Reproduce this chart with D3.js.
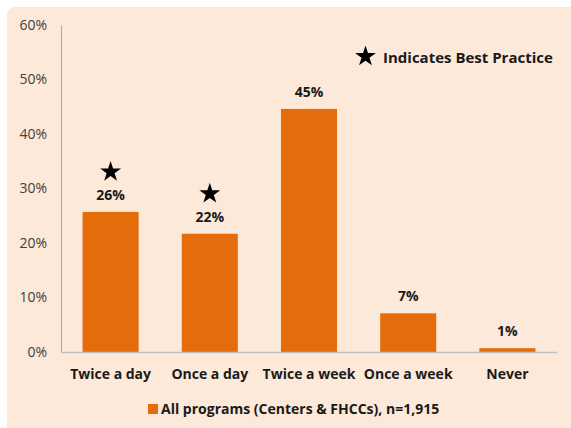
<!DOCTYPE html>
<html>
<head>
<meta charset="utf-8">
<script src="https://cdn.jsdelivr.net/npm/d3@7"></script>
<style>
  body { margin: 0; background: #fff; }
  text { font-family: "Open Sans", "Liberation Sans", sans-serif; }
</style>
</head>
<body>
<div id="chart"></div>
<script>
// Data
var categories = ["Twice a day", "Once a day", "Twice a week", "Once a week", "Never"];
var values = [25.7, 21.7, 44.6, 7.1, 0.7];
var valueLabels = ["26%", "22%", "45%", "7%", "1%"];
var bestPractice = [true, true, false, false, false];
var yTicks = [0, 10, 20, 30, 40, 50, 60];
var seriesName = "All programs (Centers & FHCCs), n=1,915";

var svgWidth = 571;
var svgHeight = 428;

var margin = { top: 25, right: 14, bottom: 76, left: 61 };
var width = svgWidth - margin.left - margin.right;
var height = svgHeight - margin.top - margin.bottom;

var svg = d3.select("#chart")
  .append("svg")
  .attr("width", svgWidth)
  .attr("height", svgHeight);

// peach chart background with rounded corner
svg.append("rect")
  .attr("x", 7)
  .attr("y", 7)
  .attr("width", svgWidth)
  .attr("height", svgHeight)
  .attr("rx", 8)
  .attr("fill", "#fde9d9");

var chartGroup = svg.append("g")
  .attr("transform", `translate(${margin.left}, ${margin.top})`);

var xScale = d3.scaleBand()
  .domain(categories)
  .range([0, width])
  .paddingInner(0.435)
  .paddingOuter(0.2175);

var yScale = d3.scaleLinear()
  .domain([0, 60])
  .range([height, 0]);

var star = d3.symbol().type(d3.symbolStar).size(135);

// y axis
var leftAxis = d3.axisLeft(yScale)
  .tickValues(yTicks)
  .tickSize(0)
  .tickPadding(14)
  .tickFormat(d => d + "%");

var yAxisG = chartGroup.append("g").call(leftAxis);
yAxisG.select(".domain").attr("stroke", "#a6a6a6");
yAxisG.selectAll("text")
  .attr("font-size", "14px")
  .attr("fill", "#404040");

// bars
chartGroup.selectAll("rect.bar")
  .data(values)
  .enter()
  .append("rect")
  .attr("class", "bar")
  .attr("x", (d, i) => xScale(categories[i]))
  .attr("y", d => yScale(d))
  .attr("width", xScale.bandwidth())
  .attr("height", d => height - yScale(d))
  .attr("fill", "#e46c0a");

// x axis
var bottomAxis = d3.axisBottom(xScale)
  .tickSize(0)
  .tickPadding(17);

var xAxisG = chartGroup.append("g")
  .attr("transform", `translate(0, ${height})`)
  .call(bottomAxis);
xAxisG.select(".domain").attr("stroke", "#bfbfbf").attr("stroke-width", 1.5);
xAxisG.selectAll("text")
  .attr("font-size", "14px")
  .attr("font-weight", "bold")
  .attr("fill", "#1a1a1a");

// value labels
chartGroup.selectAll("text.val")
  .data(values)
  .enter()
  .append("text")
  .attr("class", "val")
  .attr("x", (d, i) => xScale(categories[i]) + xScale.bandwidth() / 2)
  .attr("y", d => yScale(d) - 12)
  .attr("text-anchor", "middle")
  .attr("font-size", "14px")
  .attr("font-weight", "bold")
  .attr("fill", "#1a1a1a")
  .text((d, i) => valueLabels[i]);

// best practice stars
chartGroup.selectAll("path.star")
  .data(values.filter((d, i) => bestPractice[i]))
  .enter()
  .append("path")
  .attr("class", "star")
  .attr("d", star)
  .attr("transform", (d, i) =>
    `translate(${xScale(categories[i]) + xScale.bandwidth() / 2}, ${yScale(d) - 40})`)
  .attr("fill", "#000");

// star note
svg.append("path")
  .attr("d", star)
  .attr("transform", "translate(365.5, 56.5)")
  .attr("fill", "#000");

svg.append("text")
  .attr("x", 383)
  .attr("y", 63)
  .attr("font-size", "15px")
  .attr("font-weight", "bold")
  .attr("fill", "#1a1a1a")
  .text("Indicates Best Practice");

// legend
svg.append("rect")
  .attr("x", 148)
  .attr("y", 404)
  .attr("width", 10)
  .attr("height", 10)
  .attr("fill", "#e46c0a");

svg.append("text")
  .attr("x", 161)
  .attr("y", 414)
  .attr("font-size", "14px")
  .attr("font-weight", "bold")
  .attr("fill", "#1a1a1a")
  .text(seriesName);
</script>
</body>
</html>
